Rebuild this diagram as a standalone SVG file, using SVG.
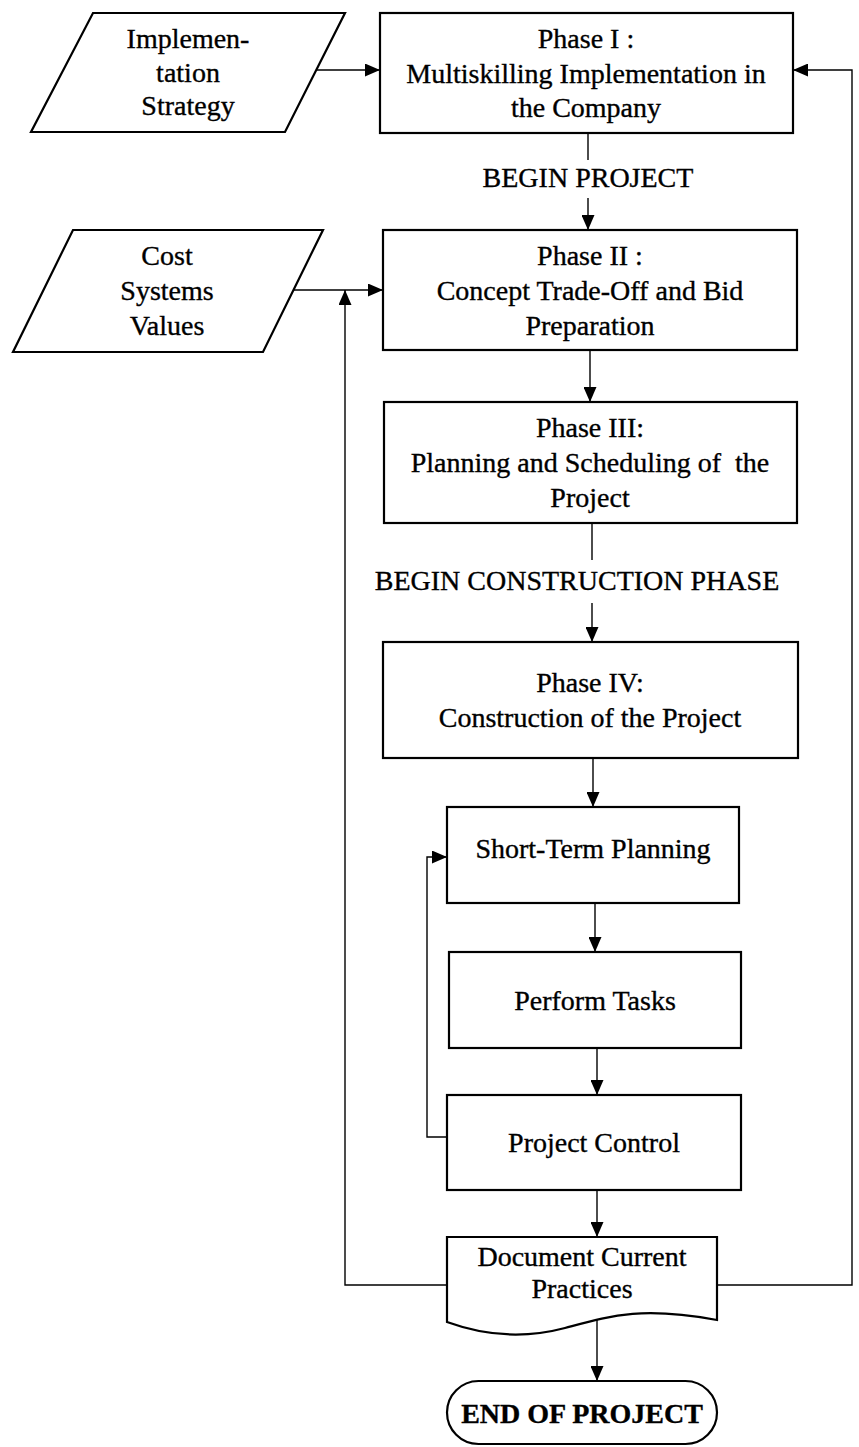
<svg xmlns="http://www.w3.org/2000/svg" width="859" height="1447" viewBox="0 0 859 1447">
  <style>
    .shape { fill: #ffffff; stroke: #000000; stroke-width: 2.2; }
    .conn { fill: none; stroke: #000000; stroke-width: 1.4; }
    .lbl { font-family: "Liberation Serif", "Times New Roman", serif; font-size: 28px; fill: #000000; stroke: #000000; stroke-width: 0.35; text-anchor: middle; }
    .bold { font-weight: bold; }
  </style>
  <defs>
    <marker id="arrow" viewBox="0 0 15 13" refX="15" refY="6.5" markerWidth="15" markerHeight="13" markerUnits="userSpaceOnUse" orient="auto">
      <path d="M0,0 L15,6.5 L0,13 Z" fill="#000000"/>
    </marker>
  </defs>
  <rect width="859" height="1447" fill="#ffffff"/>

  <!-- connectors -->
  <g id="connectors">
    <path class="conn" d="M316,70 H380" marker-end="url(#arrow)"/>
    <path class="conn" d="M588,133 V160"/>
    <path class="conn" d="M588,198 V230" marker-end="url(#arrow)"/>
    <path class="conn" d="M293,290 H383" marker-end="url(#arrow)"/>
    <path class="conn" d="M590,350 V402" marker-end="url(#arrow)"/>
    <path class="conn" d="M592,523 V560"/>
    <path class="conn" d="M592,603 V642" marker-end="url(#arrow)"/>
    <path class="conn" d="M593,758 V807" marker-end="url(#arrow)"/>
    <path class="conn" d="M595,903 V952" marker-end="url(#arrow)"/>
    <path class="conn" d="M597,1048 V1095" marker-end="url(#arrow)"/>
    <path class="conn" d="M597,1190 V1237" marker-end="url(#arrow)"/>
    <path class="conn" d="M597,1320 V1381" marker-end="url(#arrow)"/>
    <!-- control loop back to short-term planning -->
    <path class="conn" d="M447,1137 H427 V857 H447" marker-end="url(#arrow)"/>
    <!-- documented practices feed back to cost values and phase I -->
    <path class="conn" d="M447,1285 H345 V290" marker-end="url(#arrow)"/>
    <path class="conn" d="M717,1285 H852 V70 H793" marker-end="url(#arrow)"/>
  </g>

  <!-- inputs -->
  <g id="implementation-strategy">
    <path class="shape" d="M93,13 H345 L285,132 H31 Z"/>
    <text class="lbl" x="188" y="48">Implemen-</text>
    <text class="lbl" x="188" y="82">tation</text>
    <text class="lbl" x="188" y="115">Strategy</text>
  </g>
  <g id="cost-values">
    <path class="shape" d="M73,230 H323 L263,352 H13 Z"/>
    <text class="lbl" x="167" y="265">Cost</text>
    <text class="lbl" x="167" y="300">Systems</text>
    <text class="lbl" x="167" y="335">Values</text>
  </g>

  <!-- phases -->
  <g id="phase-1">
    <rect class="shape" x="380" y="13" width="413" height="120"/>
    <text class="lbl" x="586" y="48">Phase I :</text>
    <text class="lbl" x="586" y="83">Multiskilling Implementation in</text>
    <text class="lbl" x="586" y="117">the Company</text>
  </g>
  <g id="begin-project">
    <text class="lbl" x="588" y="187">BEGIN PROJECT</text>
  </g>
  <g id="phase-2">
    <rect class="shape" x="383" y="230" width="414" height="120"/>
    <text class="lbl" x="590" y="265">Phase II :</text>
    <text class="lbl" x="590" y="300">Concept Trade-Off and Bid</text>
    <text class="lbl" x="590" y="335">Preparation</text>
  </g>
  <g id="phase-3">
    <rect class="shape" x="384" y="402" width="413" height="121"/>
    <text class="lbl" x="590" y="437">Phase III:</text>
    <text class="lbl" x="590" y="472" xml:space="preserve">Planning and Scheduling of  the</text>
    <text class="lbl" x="590" y="507">Project</text>
  </g>
  <g id="begin-construction">
    <text class="lbl" x="577" y="590">BEGIN CONSTRUCTION PHASE</text>
  </g>
  <g id="phase-4">
    <rect class="shape" x="383" y="642" width="415" height="116"/>
    <text class="lbl" x="590" y="692">Phase IV:</text>
    <text class="lbl" x="590" y="727">Construction of the Project</text>
  </g>

  <!-- construction cycle -->
  <g id="short-term-planning">
    <rect class="shape" x="447" y="807" width="292" height="96"/>
    <text class="lbl" x="593" y="858">Short-Term Planning</text>
  </g>
  <g id="perform-tasks">
    <rect class="shape" x="449" y="952" width="292" height="96"/>
    <text class="lbl" x="595" y="1010">Perform Tasks</text>
  </g>
  <g id="project-control">
    <rect class="shape" x="447" y="1095" width="294" height="95"/>
    <text class="lbl" x="594" y="1152">Project Control</text>
  </g>
  <g id="document-practices">
    <path class="shape" d="M447,1237 H717 V1320 C640,1306 610,1316 565,1328 C520,1340 480,1334 447,1322 Z"/>
    <text class="lbl" x="582" y="1266">Document Current</text>
    <text class="lbl" x="582" y="1298">Practices</text>
  </g>
  <g id="end-of-project">
    <rect class="shape" x="447" y="1381" width="270" height="63" rx="31.5" ry="31.5"/>
    <text class="lbl bold" x="582" y="1423">END OF PROJECT</text>
  </g>
</svg>
